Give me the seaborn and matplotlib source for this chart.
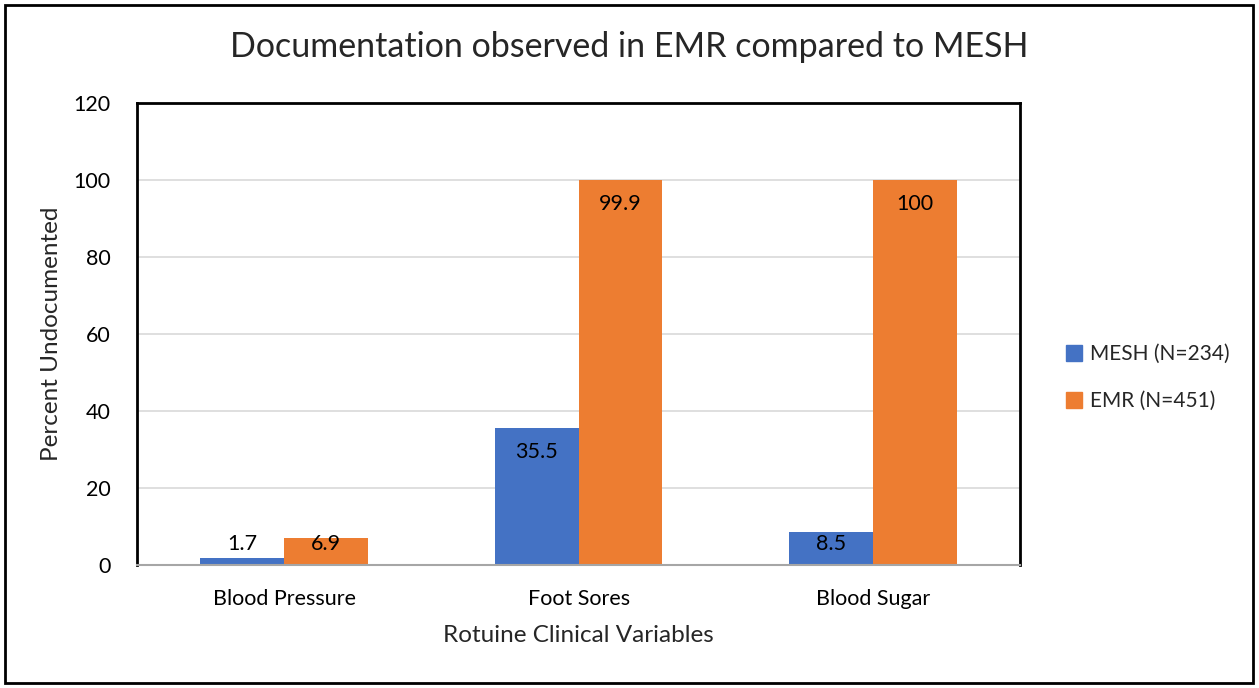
import pandas as pd
import matplotlib
matplotlib.use("Agg")
import matplotlib.pyplot as plt
from matplotlib.patches import Rectangle
import seaborn as sns

# data
categories = ["Blood Pressure", "Foot Sores", "Blood Sugar"]
series_names = ["MESH (N=234)", "EMR (N=451)"]
mesh_values = [1.7, 35.5, 8.5]
emr_values = [6.9, 99.9, 100]
value_labels = [["1.7", "35.5", "8.5"], ["6.9", "99.9", "100"]]
colors = ["#4472C4", "#ED7D31"]

df = pd.DataFrame({
    "category": categories * 2,
    "series": [series_names[0]] * 3 + [series_names[1]] * 3,
    "value": mesh_values + emr_values,
})

sns.set_theme(style="white")
plt.rcParams["font.family"] = ["Lato", "DejaVu Sans"]

fig = plt.figure(figsize=(12.59, 6.88), dpi=100)
ax = fig.add_axes([0.1088, 0.1788, 0.7015, 0.6715])

sns.barplot(data=df, x="category", y="value", hue="series", order=categories,
            hue_order=series_names, palette=colors, width=0.57, gap=0,
            saturation=1, ax=ax, edgecolor="none")

ax.set_xlim(-0.5, 2.5)
ax.set_ylim(0, 120)
ax.set_yticks(range(0, 121, 20))
ax.tick_params(axis="y", labelsize=15.5, pad=19, length=0)
ax.tick_params(axis="x", labelsize=15.5, pad=17, length=0)
for t in ax.get_yticklabels() + ax.get_xticklabels():
    t.set_color("#000000")
ax.yaxis.grid(True, color="#D9D9D9", linewidth=1.2)
ax.set_axisbelow(True)

for side in ["left", "top", "right"]:
    ax.spines[side].set_color("black")
    ax.spines[side].set_linewidth(2)
ax.spines["bottom"].set_color("#A6A6A6")
ax.spines["bottom"].set_linewidth(1.5)

# data labels, placed inside the bar end (Excel-style), kept above the axis
for i, container in enumerate(ax.containers):
    for j, bar in enumerate(container):
        v = bar.get_height()
        y = max(v - 6.2, 5.5)
        ax.text(bar.get_x() + bar.get_width() / 2, y, value_labels[i][j],
                ha="center", va="center", fontsize=15.5, color="black")

ax.set_xlabel("Rotuine Clinical Variables", fontsize=17.5, labelpad=12)
ax.set_ylabel("Percent Undocumented", fontsize=17.5, labelpad=8)

ax.legend_.remove()
handles = [Rectangle((0, 0), 1, 1, color=c) for c in colors]
fig.legend(handles, series_names, loc="center left", bbox_to_anchor=(0.832, 0.451),
           frameon=False, fontsize=15, handlelength=0.75, handleheight=0.75,
           handletextpad=0.4, labelspacing=1.3)

fig.text(0.5, 0.931, "Documentation observed in EMR compared to MESH",
         ha="center", va="center", fontsize=24.5)

fig.patches.append(Rectangle((0.004, 0.007), 0.991, 0.986, transform=fig.transFigure,
                             fill=False, edgecolor="black", linewidth=2))

fig.savefig("out.png", dpi=100)
